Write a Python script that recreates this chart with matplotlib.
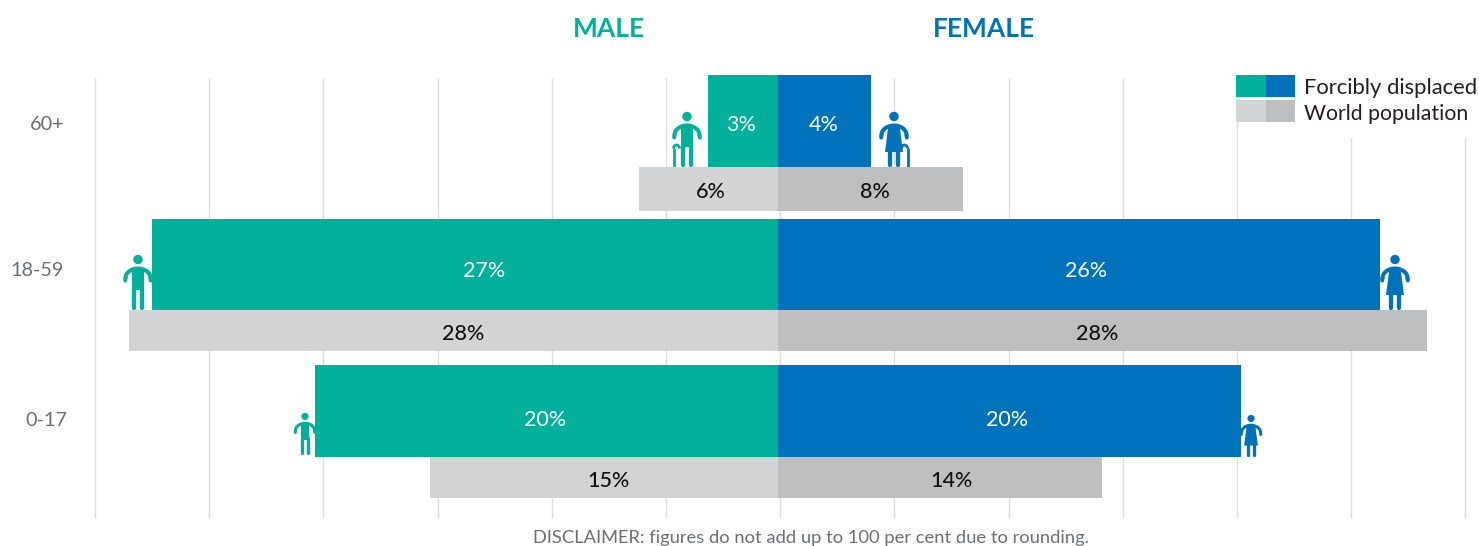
import numpy as np
import matplotlib
matplotlib.use("Agg")
import matplotlib.pyplot as plt
from matplotlib.patches import Circle, Polygon, Rectangle, Arc
from matplotlib.transforms import Affine2D

plt.rcParams['font.family'] = ['Lato', 'DejaVu Sans']

# values (percent)
age_groups = ['60+', '18-59', '0-17']
male_displaced = [3, 27, 20]
female_displaced = [4, 26, 20]
male_world = [6, 28, 15]
female_world = [8, 28, 14]

TEAL = '#00B09B'
BLUE = '#0072BC'
LIGHT_GREY = '#D1D3D4'
DARK_GREY = '#BCBEC0'
GRID = '#DCDDDE'
TEXT_GREY = '#6D6E71'

W, H = 1479, 546
CENTER = 778        # pixel x of the zero line
PX_PER_PCT = 23.17

# row layout in pixels: top/bottom of displaced bar, bottom of world bar
disp_top = [75, 219, 365]
disp_bottom = [167, 310, 457]
world_bottom = [211, 351, 498]
label_y = [125, 271, 420]
world_label_y = [192, 334, 481]
age_label_x = [47, 37, 46]

# label x positions in pixels (they are not centred in the bars)
male_disp_x = [741, 484, 545]
female_disp_x = [824, 1086, 1007]
male_world_x = [711, 463, 608]
female_world_x = [875, 1097, 951]

fig = plt.figure(figsize=(W / 100, H / 100), dpi=100)
ax = fig.add_axes([0, 0, 1, 1])
ax.set_xlim(-CENTER / PX_PER_PCT, (W - CENTER) / PX_PER_PCT)
ax.set_ylim(H, 0)
ax.axis('off')

# pixel coordinates, origin top left
px = Affine2D().scale(1 / W, -1 / H).translate(0, 1) + fig.transFigure


def draw_person(x, base, height, colour, woman=False, cane=0, z=1.5):
    """Stick figure standing on base; x is the head centre in pixels."""
    s = height / 55
    arm_lw = 2.9 * s
    leg_lw = 3.1 * s

    def line(xs, ys, w):
        ax.plot([x + a * s for a in xs], [base + b * s for b in ys], color=colour, lw=w,
                solid_capstyle='round', solid_joinstyle='round', transform=px, zorder=z)

    ax.add_patch(Circle((x, base - 50.5 * s), 4.7 * s, color=colour, lw=0, transform=px, zorder=z))
    # arms
    arm = np.radians(np.arange(180, 361, 10))
    line(12.5 * np.cos(arm), -32 + 9.5 * np.sin(arm), arm_lw)
    line([-12.5, -12.8], [-32, -29.5], arm_lw)
    line([12.5, 12.8], [-32, -29.5], arm_lw)
    if woman:
        ax.add_patch(Polygon([(x - 5.5 * s, base - 42 * s), (x + 5.5 * s, base - 42 * s),
                              (x + 9 * s, base - 15 * s), (x - 9 * s, base - 15 * s)],
                             color=colour, lw=0, transform=px, zorder=z))
        line([-3.8, -3.8], [-16, -2], leg_lw)
        line([3.6, 3.6], [-16, -2], leg_lw)
    else:
        ax.add_patch(Rectangle((x - 5.7 * s, base - 42 * s), 11.4 * s, 22 * s,
                               color=colour, lw=0, transform=px, zorder=z))
        line([-3.7, -3.7], [-22, -2], leg_lw)
        line([3.7, 3.7], [-22, -2], leg_lw)
    if cane:
        # cane stands beside the figure, hook points towards it
        cx = x + 13.5 * cane * s
        ax.plot([cx, cx], [base - 1.5, base - 18.5], color=colour, lw=2.0,
                solid_capstyle='round', transform=px, zorder=z)
        ax.add_patch(Arc((cx - 3 * cane, base - 18.5), 6, 7, theta1=180, theta2=360,
                         color=colour, lw=2.0, transform=px, zorder=z))


# gridlines, drawn on the percent axis
grid_x = [(95 + 114.2 * k - CENTER) / PX_PER_PCT for k in range(13)]
ax.vlines(grid_x, 78, 518, color=GRID, lw=1.0, zorder=0)
# the legend sits on a white box that hides the top of the lines
ax.add_patch(Rectangle((1240, 60), W - 1240, 78, fc='white', ec='none', transform=px, zorder=0.5))

# people
draw_person(687, 167, 55, TEAL, cane=-1)
draw_person(894, 167, 55, BLUE, woman=True, cane=1)
draw_person(138, 310, 55, TEAL)
draw_person(1395, 310, 55, BLUE, woman=True)
draw_person(305, 455, 42, TEAL)
draw_person(1251, 457, 42, BLUE, woman=True)

# bars
for i in range(len(age_groups)):
    y_d = (disp_top[i] + disp_bottom[i]) / 2
    h_d = disp_bottom[i] - disp_top[i]
    y_w = (disp_bottom[i] + world_bottom[i]) / 2
    h_w = world_bottom[i] - disp_bottom[i]
    ax.barh(y_d, -male_displaced[i], h_d, color=TEAL, zorder=2)
    ax.barh(y_d, female_displaced[i], h_d, color=BLUE, zorder=2)
    ax.barh(y_w, -male_world[i], h_w, color=LIGHT_GREY, zorder=2)
    ax.barh(y_w, female_world[i], h_w, color=DARK_GREY, zorder=2)

    ax.text(male_disp_x[i], label_y[i], f'{male_displaced[i]}%', color='white', fontsize=15.5,
            ha='center', va='center', transform=px, zorder=3)
    ax.text(female_disp_x[i], label_y[i], f'{female_displaced[i]}%', color='white', fontsize=15.5,
            ha='center', va='center', transform=px, zorder=3)
    ax.text(male_world_x[i], world_label_y[i], f'{male_world[i]}%', color='#111111', fontsize=15.5,
            fontweight='medium', ha='center', va='center', transform=px, zorder=3)
    ax.text(female_world_x[i], world_label_y[i], f'{female_world[i]}%', color='#111111', fontsize=15.5,
            fontweight='medium', ha='center', va='center', transform=px, zorder=3)
    ax.text(age_label_x[i], label_y[i], age_groups[i], color=TEXT_GREY, fontsize=14.3,
            ha='center', va='center', transform=px)

# headings
ax.text(609, 29, 'MALE', color=TEAL, fontsize=19, fontweight='bold', ha='center', va='center', transform=px)
ax.text(984, 29, 'FEMALE', color=BLUE, fontsize=19, fontweight='bold', ha='center', va='center', transform=px)

# legend
for c1, c2, y0 in [(TEAL, BLUE, 75), (LIGHT_GREY, DARK_GREY, 100)]:
    ax.add_patch(Rectangle((1236, y0), 29.5, 22, fc=c1, ec='none', transform=px, zorder=3))
    ax.add_patch(Rectangle((1265.5, y0), 29.5, 22, fc=c2, ec='none', transform=px, zorder=3))
ax.text(1304, 87.5, 'Forcibly displaced', color='#231F20', fontsize=15.8, va='center', transform=px, zorder=3)
ax.text(1304, 113.5, 'World population', color='#231F20', fontsize=15.3, va='center', transform=px, zorder=3)

ax.text(811, 538, 'DISCLAIMER: figures do not add up to 100 per cent due to rounding.', color=TEXT_GREY,
        fontsize=13.25, ha='center', va='center', transform=px)

fig.savefig('out.png', dpi=100)
